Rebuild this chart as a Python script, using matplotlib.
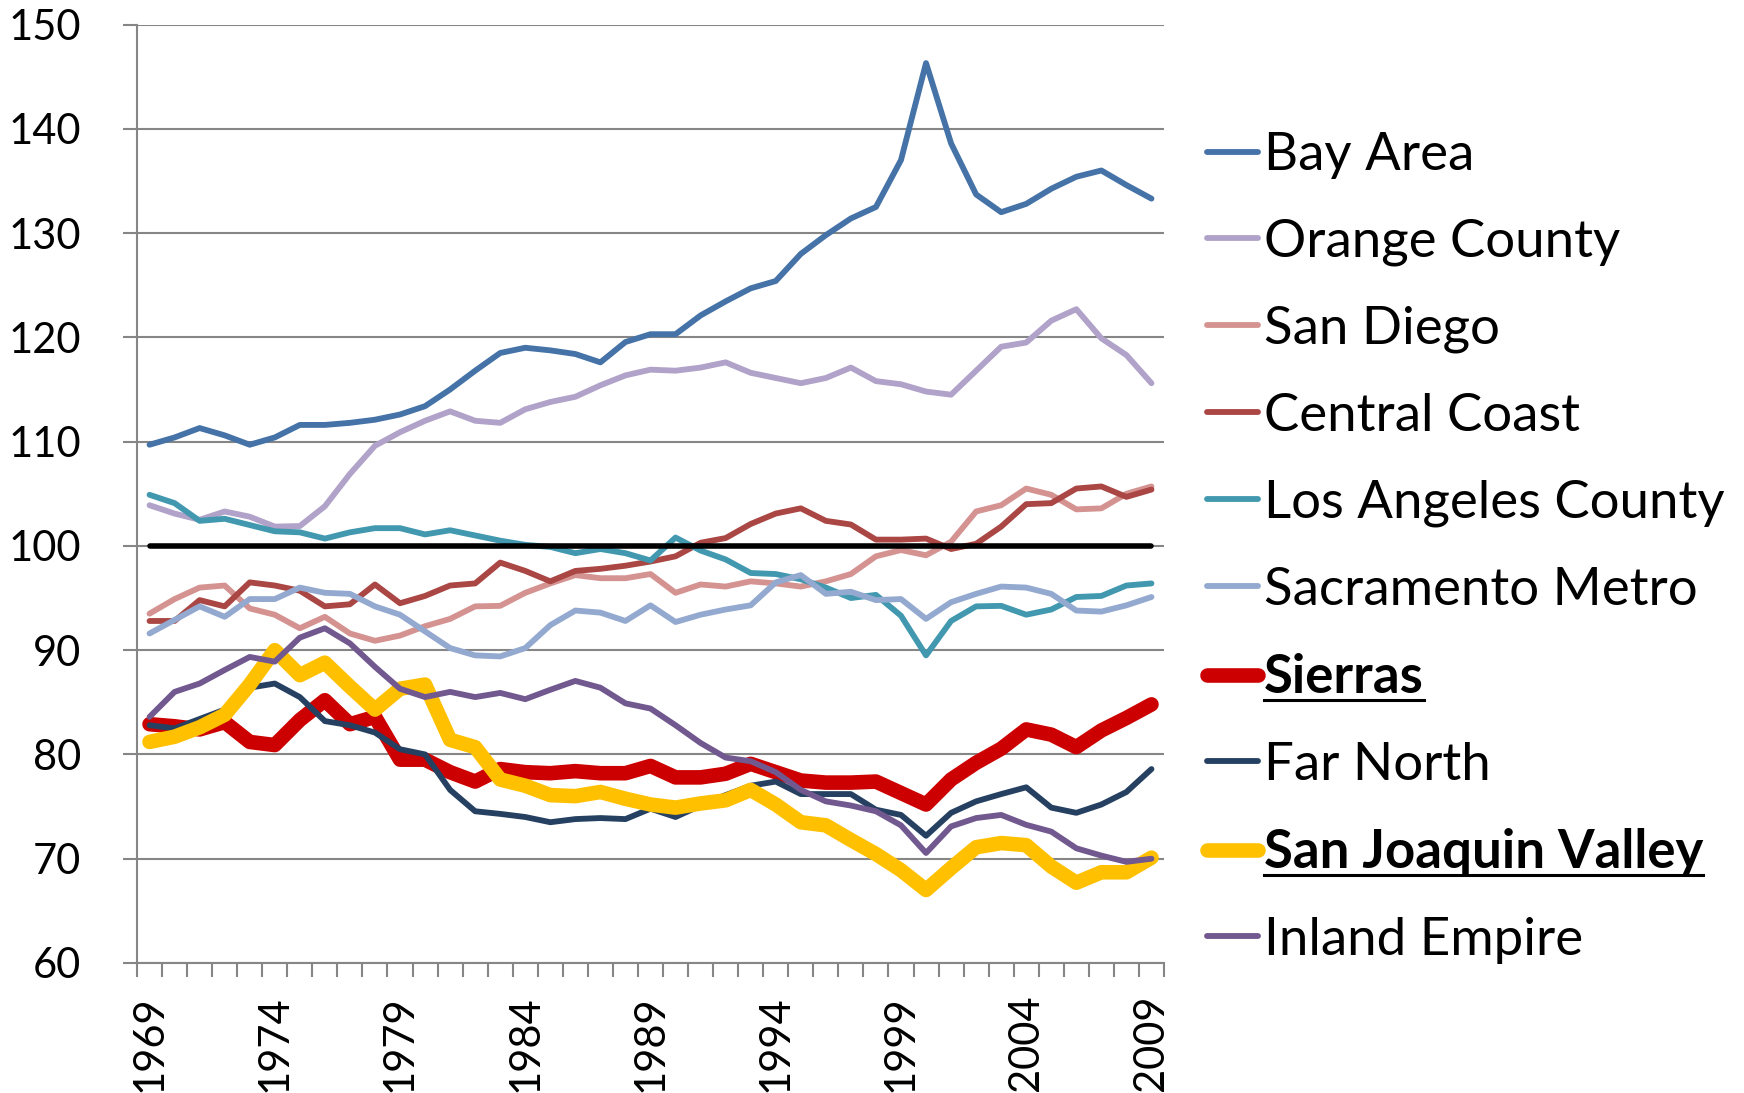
import numpy as np
import matplotlib
matplotlib.use("Agg")
import matplotlib.pyplot as plt
from matplotlib.lines import Line2D

plt.rcParams['font.family'] = ['Lato', 'DejaVu Sans']

years = list(range(1969, 2010))
tick_years = [1969, 1974, 1979, 1984, 1989, 1994, 1999, 2004, 2009]

bay_area = [109.7, 110.4, 111.3, 110.6, 109.7, 110.4, 111.6, 111.6, 111.8, 112.1,
            112.6, 113.4, 115.0, 116.8, 118.5, 119.0, 118.75, 118.4, 117.6, 119.55,
            120.3, 120.3, 122.1, 123.45, 124.7, 125.4, 128.0, 129.8, 131.4, 132.5,
            137.0, 146.3, 138.6, 133.7, 132.0, 132.8, 134.25, 135.4, 136.0, 134.6, 133.3]
orange_county = [103.9, 103.1, 102.5, 103.3, 102.8, 101.85, 101.9, 103.8, 106.9, 109.6,
                 110.9, 112.0, 112.9, 112.0, 111.8, 113.1, 113.8, 114.3, 115.4, 116.35,
                 116.9, 116.8, 117.1, 117.6, 116.6, 116.1, 115.6, 116.1, 117.1, 115.8,
                 115.5, 114.8, 114.5, 116.8, 119.1, 119.5, 121.6, 122.7, 119.9, 118.3, 115.6]
san_diego = [93.5, 94.9, 96.0, 96.2, 94.0, 93.4, 92.1, 93.2, 91.6, 90.9,
             91.4, 92.3, 93.0, 94.2, 94.25, 95.5, 96.4, 97.2, 96.9, 96.9,
             97.3, 95.5, 96.3, 96.1, 96.6, 96.4, 96.1, 96.6, 97.3, 99.0,
             99.6, 99.1, 100.4, 103.3, 103.9, 105.5, 104.9, 103.5, 103.6, 105.0, 105.7]
central_coast = [92.8, 92.8, 94.8, 94.2, 96.5, 96.2, 95.7, 94.2, 94.4, 96.3,
                 94.5, 95.2, 96.2, 96.4, 98.4, 97.6, 96.6, 97.6, 97.8, 98.1,
                 98.5, 99.0, 100.3, 100.75, 102.1, 103.1, 103.6, 102.4, 102.05, 100.6,
                 100.6, 100.7, 99.7, 100.2, 101.85, 104.0, 104.1, 105.5, 105.7, 104.7, 105.4]
la_county = [104.9, 104.1, 102.4, 102.6, 102.0, 101.4, 101.3, 100.7, 101.3, 101.7,
             101.7, 101.1, 101.5, 101.0, 100.5, 100.1, 99.9, 99.3, 99.7, 99.3,
             98.6, 100.8, 99.55, 98.7, 97.4, 97.3, 96.8, 96.0, 95.0, 95.3,
             93.3, 89.5, 92.8, 94.2, 94.25, 93.4, 93.9, 95.1, 95.2, 96.2, 96.4]
sacramento = [91.6, 92.9, 94.2, 93.2, 94.9, 94.9, 96.0, 95.5, 95.4, 94.2,
              93.4, 91.8, 90.2, 89.5, 89.4, 90.2, 92.4, 93.8, 93.6, 92.8,
              94.3, 92.7, 93.4, 93.9, 94.3, 96.5, 97.2, 95.4, 95.6, 94.8,
              94.9, 93.0, 94.6, 95.4, 96.1, 96.0, 95.4, 93.8, 93.7, 94.3, 95.1]
sierras = [82.9, 82.7, 82.4, 83.1, 81.2, 80.9, 83.3, 85.2, 82.9, 83.6,
           79.5, 79.5, 78.3, 77.4, 78.6, 78.3, 78.2, 78.4, 78.2, 78.2,
           78.9, 77.8, 77.8, 78.15, 79.1, 78.3, 77.5, 77.3, 77.3, 77.4,
           76.3, 75.2, 77.6, 79.2, 80.55, 82.4, 81.9, 80.7, 82.3, 83.5, 84.8]
far_north = [82.8, 82.5, 83.4, 84.3, 86.4, 86.8, 85.5, 83.2, 82.8, 82.1,
             80.5, 80.0, 76.6, 74.55, 74.3, 74.0, 73.5, 73.8, 73.9, 73.8,
             74.8, 74.0, 75.1, 76.1, 77.0, 77.4, 76.2, 76.2, 76.2, 74.7,
             74.2, 72.2, 74.4, 75.5, 76.2, 76.85, 74.9, 74.4, 75.2, 76.4, 78.6]
san_joaquin = [81.2, 81.7, 82.6, 83.8, 86.7, 90.0, 87.6, 88.8, 86.5, 84.3,
               86.3, 86.7, 81.4, 80.7, 77.6, 77.0, 76.1, 76.0, 76.4, 75.75,
               75.2, 74.9, 75.3, 75.6, 76.6, 75.2, 73.5, 73.2, 71.8, 70.45,
               68.9, 67.0, 69.1, 71.1, 71.5, 71.3, 69.25, 67.7, 68.7, 68.7, 70.1]
inland_empire = [83.6, 86.0, 86.8, 88.1, 89.35, 88.9, 91.2, 92.1, 90.65, 88.4,
                 86.3, 85.5, 86.0, 85.5, 85.9, 85.3, 86.2, 87.05, 86.4, 84.9,
                 84.4, 82.8, 81.1, 79.7, 79.35, 78.3, 76.6, 75.5, 75.1, 74.55,
                 73.2, 70.55, 73.1, 73.9, 74.2, 73.25, 72.6, 71.0, 70.3, 69.7, 70.0]
baseline_value = 100

series_names = ["Bay Area", "Orange County", "San Diego", "Central Coast",
                "Los Angeles County", "Sacramento Metro", "Sierras", "Far North",
                "San Joaquin Valley", "Inland Empire"]
series_values = [bay_area, orange_county, san_diego, central_coast, la_county,
                 sacramento, sierras, far_north, san_joaquin, inland_empire]
colors = ['#4572A7', '#B0A2C8', '#D49391', '#AA4643', '#4198AF',
          '#93A9CF', '#CC0000', '#254061', '#FFC000', '#71588F']
bold_series = {"Sierras", "San Joaquin Valley"}

W, H = 1744, 1093
fig = plt.figure(figsize=(W / 100, H / 100), dpi=100)
ax = fig.add_axes([137 / W, 1 - 963 / H, (1164 - 137) / W, (963 - 24.5) / H])

x = np.arange(len(years))
handles = []
for name, vals, c in zip(series_names, series_values, colors):
    assert len(vals) == len(years)
    lw = 10.5 if name in bold_series else 4.2
    ln, = ax.plot(x, vals, color=c, lw=lw, solid_capstyle='round',
                  solid_joinstyle='round', label=name)
    handles.append(ln)

ax.hlines(baseline_value, x[0], x[-1], color='black', lw=4.0, capstyle='round', zorder=3)

grid_c = '#868686'
ax.set_xlim(-0.5, len(years) - 0.5)
ax.set_ylim(60, 150)
ax.set_yticks(np.arange(60, 151, 10))
ax.yaxis.grid(True, color=grid_c, lw=1.5)
ax.set_axisbelow(True)

ax.set_xticks([years.index(y) for y in tick_years])
ax.set_xticklabels([str(y) for y in tick_years], rotation=90, va='top', ha='center')
ax.set_xticks(np.arange(-0.5, len(years)), minor=True)
ax.tick_params(axis='x', which='major', length=0, pad=23, labelsize=30)
ax.tick_params(axis='x', which='minor', length=10, width=1.5, color=grid_c, direction='out')
ax.tick_params(axis='y', which='major', length=10, width=1.5, color=grid_c, pad=30, labelsize=30)

for s in ['top', 'right']:
    ax.spines[s].set_visible(False)
for s in ['left', 'bottom']:
    ax.spines[s].set_color(grid_c)
    ax.spines[s].set_linewidth(1.5)

leg_fs = 38
leg = ax.legend(handles=handles, loc='center left',
                bbox_to_anchor=(1206.5 / W, 1 - 548 / H), bbox_transform=fig.transFigure,
                frameon=False, fontsize=leg_fs, borderpad=0, borderaxespad=0,
                handlelength=0.97, handletextpad=0.12, labelspacing=0.75)
for t in leg.get_texts():
    if t.get_text() in bold_series:
        t.set_fontweight('bold')

fig.canvas.draw()
renderer = fig.canvas.get_renderer()
for t in leg.get_texts():
    if t.get_text() in bold_series:
        bb = t.get_window_extent(renderer)
        yl = bb.y0 + 2
        fig.add_artist(Line2D([bb.x0, bb.x1], [yl, yl], color='black', lw=2.2,
                              transform=None))

fig.savefig('out.png', dpi=100, facecolor='white')
